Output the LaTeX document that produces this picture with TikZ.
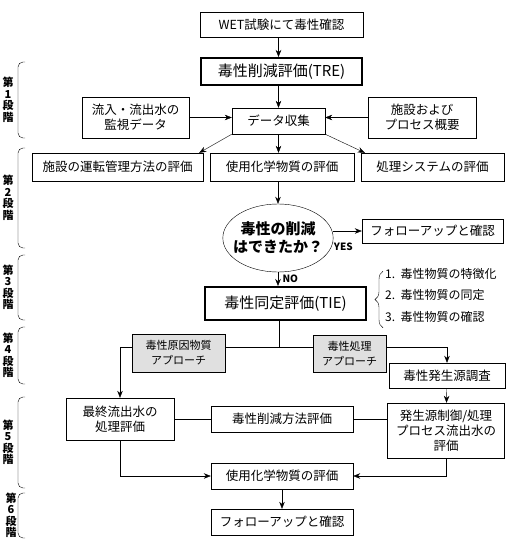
\documentclass[tikz,border=0pt]{standalone}
\usepackage{fontspec}
\setmainfont{Noto Sans CJK JP}
\usetikzlibrary{positioning,arrows.meta,shapes.geometric,decorations.pathreplacing}

\begin{document}
\begin{tikzpicture}[x=1pt,y=-1pt,>={Stealth[length=7pt,width=5.5pt]},
  b/.style={draw,align=center,inner sep=2pt,font=\fontsize{12.5}{15}\selectfont},
  t/.style={b,line width=2pt,font=\fontsize{15}{18}\selectfont},
  g/.style={b,fill=black!12,font=\fontsize{11}{15}\selectfont},
  li/.style={anchor=west,inner sep=2pt,font=\fontsize{12}{14}\selectfont},
  s/.style={align=center,inner sep=0pt,font=\fontsize{11}{11.5}\selectfont\bfseries}]
\useasboundingbox (0,0) rectangle (511,541);
% main column
\node[b,minimum width=163,minimum height=25] (wet) at (281.5,24.5) {WET試験にて毒性確認};
\node[t,minimum width=161,minimum height=27] (tre) at (281.5,71.5) {毒性削減評価(TRE)};
\node[b,minimum width=107,minimum height=41] (mon) at (135.5,117.5) {流入・流出水の\\監視データ};
\node[b,minimum width=93,minimum height=26] (col) at (278.5,121) {データ収集};
\node[b,minimum width=108,minimum height=41] (fac) at (422,117.5) {施設および\\プロセス概要};
\node[b,minimum width=171,minimum height=28] (ev1) at (117.5,167) {施設の運転管理方法の評価};
\node[b,minimum width=144,minimum height=28] (ev2) at (282,167) {使用化学物質の評価};
\node[b,minimum width=143,minimum height=28] (ev3) at (432.5,167) {処理システムの評価};
\node[ellipse,draw,minimum width=110,minimum height=68,inner xsep=-6pt,inner ysep=0pt,align=center,font=\fontsize{15}{18}\selectfont\bfseries] (q) at (278,238) {毒性の削減\\はできたか？};
\node[b,minimum width=141,minimum height=24] (fu1) at (432.5,231) {フォローアップと確認};
\node[t,minimum width=161,minimum height=33] (tie) at (285.5,303.5) {毒性同定評価(TIE)};
% TIE steps
\node[li] (l1) at (383,274) {1.\ \ 毒性物質の特徴化};
\node[li] (l2) at (383,295) {2.\ \ 毒性物質の同定};
\node[li] (l3) at (383,317) {3.\ \ 毒性物質の確認};
\draw[decorate,decoration={brace,amplitude=8pt}] ([yshift=-3pt]l3.south west) -- ([yshift=-5pt]l1.north west);
% approaches
\node[g,minimum width=93,minimum height=38] (g1) at (178.5,353) {毒性原因物質\\アプローチ};
\node[g,minimum width=73,minimum height=37] (g2) at (349.5,353.5) {毒性処理\\アプローチ};
\node[b,minimum width=116,minimum height=25] (src) at (447,375.5) {毒性発生源調査};
\node[b,minimum width=108,minimum height=42] (fin) at (120,419) {最終流出水の\\処理評価};
\node[b,minimum width=142,minimum height=26] (mth) at (282,419) {毒性削減方法評価};
\node[b,minimum width=117,minimum height=55] (ctl) at (446,430.5) {発生源制御/処理\\プロセス流出水の\\評価};
\node[b,minimum width=142,minimum height=26] (ch2) at (282,476) {使用化学物質の評価};
\node[b,minimum width=142,minimum height=26] (fu2) at (282,522) {フォローアップと確認};
\coordinate (j) at (279,347);
% connectors
\draw[->] (wet.south -| col) -- (tre.north -| col);
\draw[->] (tre.south -| col) -- (col);
\draw[->] (mon) -- (mon -| col.west);
\draw[->] (fac) -- (fac -| col.east);
\draw[->] (col.south west) -- ([xshift=-4pt]ev1.north east);
\draw[->] (col.south east) -- ([xshift=4pt]ev3.north west);
\draw[->] (col) -- (col |- ev2.north);
\draw[->] (ev2.south -| q) -- (q);
\draw[->] (q.east |- fu1) -- (fu1) node[pos=0.35,below=8pt,font=\fontsize{10}{12}\selectfont\bfseries] {YES};
\draw[->] (q) -- (q |- tie.north) node[midway,right=1pt,font=\fontsize{10}{12}\selectfont\bfseries] {NO};
\draw (tie.south -| j) -- (j);
\draw (j) -- (j -| g1.east);
\draw[->] (j -| g1.west) -| (fin);
\draw (j) -- (j -| g2.west);
\draw[->] (j -| g2.east) -| (src);
\draw[->] (src) -- (ctl);
\draw (fin) -- (mth);
\draw (mth) -- (mth -| ctl.west);
\draw[->] (fin) |- (ch2);
\draw[->] (ctl) |- (ch2);
\draw[->] (ch2) -- (fu2);
% stages
\foreach \n/\ya/\yb/\dx in {1/62/138/0,2/148/248/0,3/255/320/0,4/327/384/0,5/397/488/0,6/493/538/3}{
  \draw[rounded corners=5pt] (25,\ya) -| (18,\yb) -- (25,\yb);
  \node[s] (st\n) at (8+\dx,{(\ya+\yb)/2}) {第\\\n\\段\\階};
}
\end{tikzpicture}
\end{document}
